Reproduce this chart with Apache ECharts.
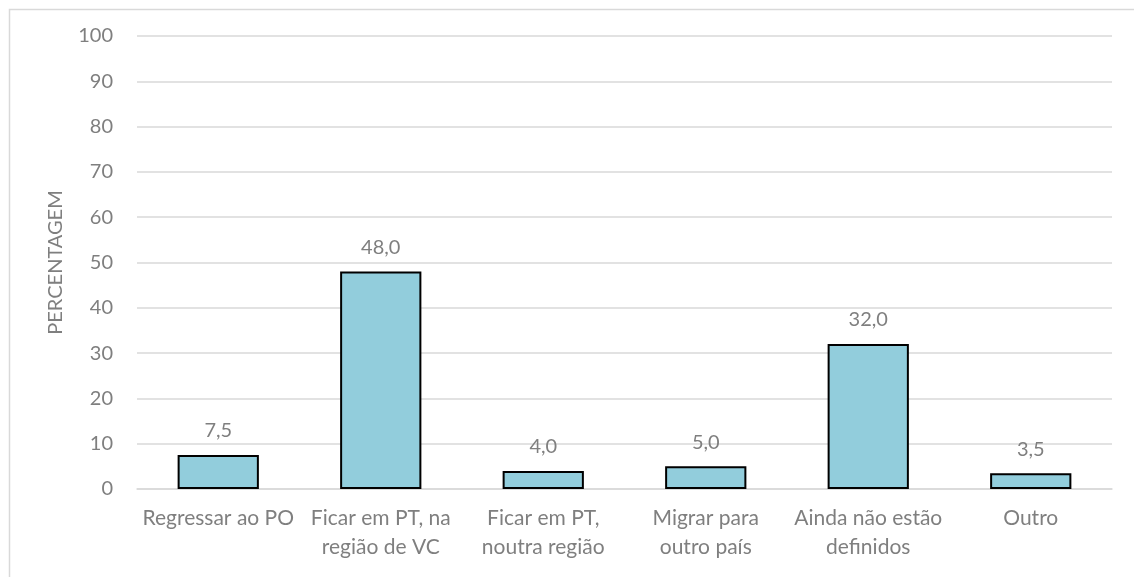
<!DOCTYPE html>
<html>
<head>
<meta charset="utf-8">
<script src="https://cdn.jsdelivr.net/npm/echarts@6/dist/echarts.min.js"></script>
<style>html,body{margin:0;padding:0;background:#fff;}#c{width:1134px;height:577px;}</style>
</head>
<body>
<div id="c"></div>
<script>
const categories = ["Regressar ao PO", "Ficar em PT, na\nregião de VC", "Ficar em PT,\nnoutra região", "Migrar para\noutro país", "Ainda não estão\ndefinidos", "Outro"];
const values = [7.5, 48.0, 4.0, 5.0, 32.0, 3.5];
const yTicks = [0, 10, 20, 30, 40, 50, 60, 70, 80, 90, 100];
const yAxisName = "PERCENTAGEM";

const font = "Lato, 'Open Sans', sans-serif";
const chart = echarts.init(document.getElementById('c'));
chart.setOption({
  animation: false,
  graphic: [{
    type: 'rect', left: 7, top: 7,
    shape: { width: 1140, height: 580 },
    style: { fill: 'none', stroke: '#d9d9d9', lineWidth: 1.5 },
    silent: true
  }],
  grid: { left: 137, right: 22, top: 36, bottom: 88 },
  xAxis: {
    type: 'category',
    data: categories,
    axisLine: { lineStyle: { color: '#d9d9d9', width: 1.5 } },
    axisTick: { show: false },
    axisLabel: { color: '#7f7f7f', fontSize: 21, fontFamily: font, margin: 15, lineHeight: 29, interval: 0 }
  },
  yAxis: {
    type: 'value',
    min: yTicks[0], max: yTicks[yTicks.length - 1], interval: 10,
    name: yAxisName,
    nameLocation: 'middle',
    nameGap: 71,
    nameRotate: 90,
    nameTextStyle: { color: '#7f7f7f', fontSize: 20, fontFamily: font },
    axisLine: { show: false },
    axisTick: { show: false },
    splitLine: { lineStyle: { color: '#d9d9d9', width: 1.5 } },
    axisLabel: { color: '#7f7f7f', fontSize: 20, fontFamily: font, margin: 24 }
  },
  series: [{
    type: 'bar',
    data: values,
    barCategoryGap: '50%',
    itemStyle: { color: '#92cddc', borderColor: '#000', borderWidth: 2 },
    label: {
      show: true, position: 'top', distance: 14,
      color: '#7f7f7f', fontSize: 20, fontFamily: font,
      formatter: p => p.value.toFixed(1).replace('.', ',')
    }
  }]
});
</script>
</body>
</html>
